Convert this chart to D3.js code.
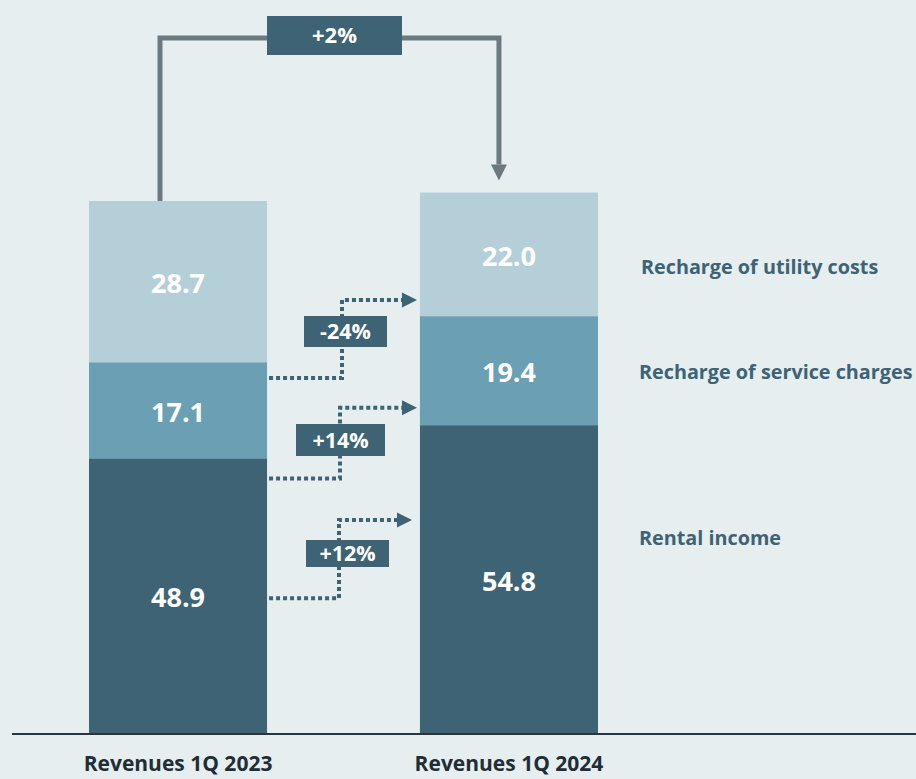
<!DOCTYPE html>
<html>
<head>
<meta charset="utf-8">
<script src="https://cdn.jsdelivr.net/npm/d3@7"></script>
<style>
  html, body { margin: 0; padding: 0; background: #e6eef0; }
  svg { display: block; font-family: "Open Sans", Lato, sans-serif; }
</style>
</head>
<body>
<svg id="chart" width="916" height="779"></svg>
<script>
// Revenue breakdown, EUR m
const categories = ["Revenues 1Q 2023", "Revenues 1Q 2024"];
const segments = ["Rental income", "Recharge of service charges", "Recharge of utility costs"];
const rentalIncome = [48.9, 54.8];
const serviceCharges = [17.1, 19.4];
const utilityCosts = [28.7, 22.0];
const segmentChanges = ["+12%", "+14%", "-24%"];
const totalChange = "+2%";

const colors = ["#3d6374", "#6a9fb4", "#b5cfd9"];
const dark = "#3d6374";
const font = "'Open Sans', Lato, sans-serif";

const svg = d3.select("#chart");
svg.append("rect").attr("width", 916).attr("height", 779).attr("fill", "#e6eef0");

const x = d3.scaleBand().domain(categories).range([89, 598]).paddingInner(0.462).paddingOuter(0);
const y = d3.scaleLinear().domain([0, 130]).range([733, 2.7]);

const table = categories.map((c, i) => ({
  category: c,
  "Rental income": rentalIncome[i],
  "Recharge of service charges": serviceCharges[i],
  "Recharge of utility costs": utilityCosts[i]
}));
const stacked = d3.stack().keys(segments)(table);

// stacked bars
const layers = svg.append("g").selectAll("g").data(stacked).join("g")
  .attr("fill", (d, i) => colors[i]);
layers.selectAll("rect").data(d => d).join("rect")
  .attr("x", d => x(d.data.category))
  .attr("width", x.bandwidth())
  .attr("y", d => y(d[1]))
  .attr("height", d => y(d[0]) - y(d[1]));

// value labels inside segments
layers.selectAll("text").data(d => d).join("text")
  .attr("x", d => x(d.data.category) + x.bandwidth() / 2)
  .attr("y", d => (y(d[0]) + y(d[1])) / 2 + 2)
  .attr("dy", "0.36em")
  .attr("text-anchor", "middle")
  .attr("fill", "#ffffff")
  .attr("font-weight", 700)
  .attr("font-size", 27)
  .text(d => (d[1] - d[0]).toFixed(1));

// baseline and category axis
svg.append("line")
  .attr("x1", 12).attr("x2", 916).attr("y1", y(0) + 1).attr("y2", y(0) + 1)
  .attr("stroke", "#26363e").attr("stroke-width", 2);

const axis = svg.append("g").attr("transform", `translate(0,${y(0)})`)
  .call(d3.axisBottom(x).tickSize(0).tickPadding(23));
axis.select(".domain").remove();
axis.selectAll("text")
  .attr("font-family", font)
  .attr("font-size", 21).attr("font-weight", 700).attr("fill", "#1f2d35");

// segment names to the right of the second bar
const legendPos = { "Rental income": 538, "Recharge of service charges": 372, "Recharge of utility costs": 267 };
svg.append("g").selectAll("text").data(stacked).join("text")
  .attr("x", (d, i) => i === 2 ? 641 : 639)
  .attr("y", d => legendPos[d.key])
  .attr("dy", "0.36em")
  .attr("fill", dark)
  .attr("font-weight", 700)
  .attr("font-size", 19.8)
  .text(d => d.key);

// total change connector (solid, with arrow)
const total0 = d3.sum(stacked, s => s[0][1] - s[0][0]);
const total1 = d3.sum(stacked, s => s[1][1] - s[1][0]);
const topX0 = x(categories[0]) + 71;
const topX1 = x(categories[1]) + 79;
const topY = 38;
const grey = "#6b7a7f";
svg.append("path")
  .attr("d", d3.line()([[topX0, y(total0)], [topX0, topY], [topX1, topY], [topX1, y(total1) - 28]]))
  .attr("fill", "none").attr("stroke", grey).attr("stroke-width", 5);
svg.append("path")
  .attr("d", `M${topX1 - 8},${y(total1) - 28} L${topX1 + 8},${y(total1) - 28} L${topX1},${y(total1) - 12} Z`)
  .attr("fill", grey);
svg.append("rect").attr("x", 267).attr("y", 16).attr("width", 135).attr("height", 39).attr("fill", dark);
svg.append("text").attr("x", 334.5).attr("y", 35.5).attr("dy", "0.36em")
  .attr("text-anchor", "middle").attr("fill", "#fff").attr("font-weight", 700).attr("font-size", 22)
  .text(totalChange);

// per-segment change connectors (dotted, with arrow)
const connectors = [
  { label: segmentChanges[0], from: 24.0, to: 37.9, bendX: 339, tipX: 412, box: [306, 540, 83, 27] },
  { label: segmentChanges[1], from: 45.3, to: 57.9, bendX: 340, tipX: 417, box: [296, 424, 89, 32] },
  { label: segmentChanges[2], from: 63.2, to: 77.1, bendX: 342, tipX: 417, box: [304, 316, 83, 31] }
];
const startX = x(categories[0]) + x.bandwidth();
const cg = svg.append("g");
connectors.forEach(c => {
  const y0 = y(c.from), y1 = y(c.to);
  cg.append("path")
    .attr("d", d3.line()([[startX + 2, y0], [c.bendX, y0], [c.bendX, y1], [c.tipX - 14, y1]]))
    .attr("fill", "none").attr("stroke", dark).attr("stroke-width", 4)
    .attr("stroke-dasharray", "4,3");
  cg.append("path")
    .attr("d", `M${c.tipX - 15},${y1 - 7.5} L${c.tipX},${y1} L${c.tipX - 15},${y1 + 7.5} Z`)
    .attr("fill", dark);
  const [bx, by, bw, bh] = c.box;
  cg.append("rect").attr("x", bx).attr("y", by).attr("width", bw).attr("height", bh).attr("fill", dark);
  cg.append("text").attr("x", bx + bw / 2).attr("y", by + bh / 2).attr("dy", "0.36em")
    .attr("text-anchor", "middle").attr("fill", "#fff").attr("font-weight", 700).attr("font-size", 21.5)
    .text(c.label);
});
</script>
</body>
</html>
